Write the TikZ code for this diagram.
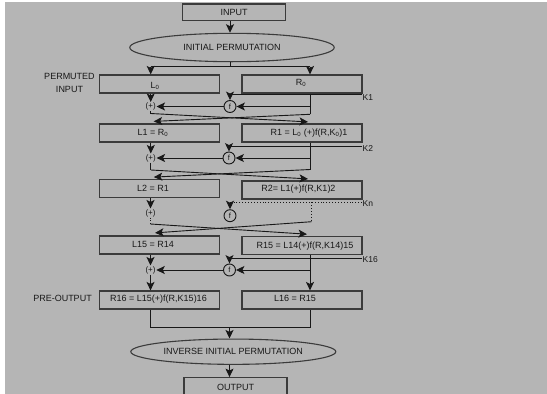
\documentclass[tikz,border=0pt]{standalone}
\usepackage{fontspec}
\setmainfont{Liberation Sans}
\usetikzlibrary{arrows.meta,shapes.geometric,calc}
\definecolor{bg}{RGB}{181,181,181}
\definecolor{ln}{RGB}{24,24,24}
\begin{document}
\begin{tikzpicture}[x=1pt,y=-1pt,
  txt/.style={font=\fontsize{9}{12.6}\selectfont, text=ln, inner sep=0pt},
  small/.style={font=\fontsize{8.5}{10}\selectfont, text=ln, inner sep=0pt},
  blk/.style={draw=ln!85, line width=1.2pt, rectangle, minimum width=120pt, minimum height=18pt, inner sep=0pt},
  ell/.style={draw=ln!85, line width=1.1pt, ellipse, inner sep=0pt, font=\fontsize{9}{10}\selectfont, text=ln},
  fc/.style={draw=ln, line width=0.9pt, circle, minimum size=12pt, inner sep=0pt, font=\fontsize{7.5}{8}\selectfont, text=ln},
  pl/.style={inner sep=0.6pt, font=\fontsize{8}{8}\selectfont, text=ln},
  con/.style={draw=ln, line width=0.9pt},
  arr/.style={con, -{Stealth[length=8.5pt,width=8pt,inset=2pt]}},
  dot/.style={draw=ln, line width=0.9pt, dotted}
]
\useasboundingbox (0,0) rectangle (547,394);
\clip (0,0) rectangle (547,394);
\fill[white] (0,0) rectangle (547,394);
\fill[bg] (5,2) rectangle (547,394);

% axis coordinates
\coordinate (xl) at (150.7,0);
\coordinate (xr) at (310,0);
\coordinate (ax) at (230,0);

% top
\node[blk, minimum width=103pt, minimum height=16.7pt, font=\fontsize{9}{10}\selectfont, text=ln] (in) at (234,12.35) {INPUT};
\node[ell, minimum width=204.5pt, minimum height=28.4pt] (ip) at (232,47.5) {INITIAL PERMUTATION};
\draw[arr] (in.south -| ax) -- (ip.north -| ax);
\coordinate (sp) at (230,66.7);
\draw[con] (ip.south -| ax) -- (sp);
\draw[con] (sp -| xl) -- (sp -| xr);

% row 0
\node[blk] (L0) at (159.5,84) {};
\node[blk] (R0) at (302,84) {};
\node[txt] (L0t) at (155,86) {L\textsubscript{0}};
\node[txt] (R0t) at (301,83) {R\textsubscript{0}};
\node[txt, align=center] (pin) at (69.5,83) {PERMUTED\\INPUT};
\draw[arr] (sp -| xl) -- (L0.north -| xl);
\draw[arr] (sp -| xr) -- (R0.north -| xr);

% row 1 boxes
\node[blk] (L1) at (159.5,133) {};
\node[blk] (R1) at (302,133) {};
\node[txt] (L1t) at (153,133.3) {L1 = R\textsubscript{0}};
\node[txt] (R1t) at (309,133.3) {R1 = L\textsubscript{0} (+)f(R,K\textsubscript{0})1};

% round 1
\node[fc] (f1) at (230,106.5) {f};
\node[pl] (p1) at (150.7,106.5) {(+)};
\coordinate (k1) at (362,94.5);
\node[small, anchor=west] (k1t) at (362.5,97.5) {K1};
\draw[arr] (k1) -| (f1.north);
\coordinate (r1b) at (310,114.3);
\coordinate (l1b) at (150.7,113.5);
\draw[con] (R0.south -| r1b) -- (r1b);
\draw[arr] (f1 -| r1b) -- (f1);
\draw[arr] (f1) -- (p1);
\draw[arr] (L0.south -| p1) -- (p1);
\draw[con] (p1.south) -- (l1b);
\draw[arr] (l1b) -- ($(R1.north -| r1b)+(-2,-1.5)$);
\draw[arr] (r1b) -- ($(L1.north -| l1b)+(3,-2)$);

% row 2 boxes
\node[blk] (L2) at (159.5,188.7) {};
\node[blk] (R2) at (302,190) {};
\node[txt] (L2t) at (153,188) {L2 = R1};
\node[txt] (R2t) at (298.5,189.5) {R2= L1(+)f(R,K1)2};

% round 2
\node[fc] (f2) at (229,158) {f};
\node[pl] (p2) at (150.8,158) {(+)};
\coordinate (k2) at (362,146.7);
\node[small, anchor=west] (k2t) at (362.5,148.5) {K2};
\draw[arr] (k2) -| (f2.north);
\coordinate (r2b) at (310,169.5);
\coordinate (l2b) at (150.8,170);
\draw[con] (R1.south -| r2b) -- (r2b);
\draw[arr] (f2 -| r2b) -- (f2);
\draw[arr] (f2) -- (p2);
\draw[arr] (L1.south -| p2) -- (p2);
\draw[con] (p2.south) -- (l2b);
\draw[arr] (l2b) -- ($(R2.north -| r2b)+(-2,-1.5)$);
\draw[arr] (r2b) -- ($(L2.north -| l2b)+(3,-2)$);

% row 15 boxes
\node[blk] (L15) at (159.5,245) {};
\node[blk] (R15) at (302,245.3) {};
\node[txt] (L15t) at (153,244.5) {L15 = R14};
\node[txt] (R15t) at (305,246.5) {R15 = L14(+)f(R,K14)15};

% round n (dotted)
\node[fc] (fn) at (230,215.7) {f};
\node[pl] (pn) at (150.5,213) {(+)};
\coordinate (kn) at (362,202.3);
\node[small, anchor=west] (knt) at (362.5,203.5) {Kn};
\draw[dot] (kn) -- (kn -| fn);
\draw[arr] (kn -| fn) -- (fn.north);
\coordinate (rnb) at (311.7,221.7);
\coordinate (lnb) at (150.5,224);
\draw[dot] (kn -| rnb) -- (rnb);
\draw[arr] (L2.south -| pn) -- (pn);
\draw[dot] (pn.south) -- (lnb);
\draw[arr] (lnb) -- ($(R15.north -| r2b)+(-3,-1.5)$);
\draw[arr] (rnb) -- ($(L15.north -| lnb)+(4.5,-2.5)$);

% row 16 boxes
\node[blk] (R16) at (159.5,300) {};
\node[blk] (L16) at (302,300) {};
\node[txt] (R16t) at (158.5,299) {R16 = L15(+)f(R,K15)16};
\node[txt] (L16t) at (295,298.5) {L16 = R15};
\node[txt] (pre) at (62.5,298.3) {PRE-OUTPUT};

% round 16
\node[fc] (f16) at (229.5,270) {f};
\node[pl] (p16) at (150.5,270) {(+)};
\coordinate (k16) at (362,258.3);
\node[small, anchor=west] (k16t) at (362.5,259.5) {K16};
\draw[arr] (k16) -| (f16.north);
\draw[arr] (R15.south -| xr) -- (L16.north -| xr);
\draw[arr] (f16 -| xr) -- (f16);
\draw[arr] (f16) -- (p16);
\draw[arr] (L15.south -| p16) -- (p16);
\draw[arr] (p16) -- (R16.north -| p16);

% bottom
\coordinate (jb) at (229.5,327.3);
\draw[con] (R16.south -| xl) -- (jb -| xl) -- (jb -| xr) -- (L16.south -| xr);
\node[ell, minimum width=205pt, minimum height=25.3pt] (ie) at (233.3,351.7) {INVERSE INITIAL PERMUTATION};
\draw[arr] (jb) -- (ie.north -| jb);
\node[blk, minimum width=103pt, minimum height=20pt, font=\fontsize{9}{10}\selectfont, text=ln] (out) at (235.5,387.7) {OUTPUT};
\draw[arr] (ie.south -| jb) -- (out.north -| jb);
\end{tikzpicture}
\end{document}
